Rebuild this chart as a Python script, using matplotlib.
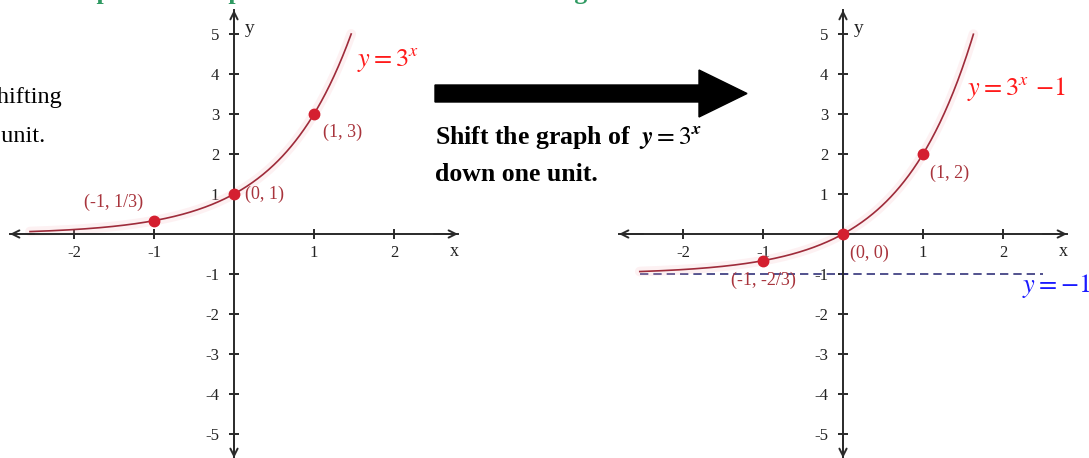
import matplotlib
matplotlib.use('Agg')
import matplotlib.pyplot as plt
from matplotlib.patches import FancyArrow
import numpy as np

plt.rcParams['font.family'] = 'serif'
plt.rcParams['font.serif'] = ['Liberation Serif', 'DejaVu Serif']
plt.rcParams['mathtext.fontset'] = 'stix'

# data
base = 3
shift = -1
x_ticks = [-2, -1, 1, 2]
x_tick_labels = ['-2', '-1', '1', '2']
y_ticks = [-5, -4, -3, -2, -1, 1, 2, 3, 4, 5]
y_tick_labels = ['-5', '-4', '-3', '-2', '-1', '1', '2', '3', '4', '5']

pts_x = [-1, 0, 1]
left_pts_y = [1 / 3, 1, 3]
left_pt_labels = ['(-1, 1/3)', '(0, 1)', '(1, 3)']
right_pts_y = [-2 / 3, 0, 2]
right_pt_labels = ['(-1, -2/3)', '(0, 0)', '(1, 2)']

left_curve_x = (-2.55, 1.465)
right_curve_x = (-2.54, 1.63)
asymptote_y = -1
asymptote_x = (-2.54, 2.5)

axis_color = '#2a2a2a'
curve_color = '#9e2b3a'
dot_color = '#d42030'
label_color = '#a8343c'

W, H = 1089, 458
fig = plt.figure(figsize=(W / 100, H / 100), dpi=100)
fig.patch.set_facecolor('white')


def px(x, y):
    # pixel (from top-left) -> figure fraction
    return x / W, 1 - y / H


def draw_axes(ax):
    ax.set_xlim(-2.8, 2.8)
    ax.set_ylim(-5.6, 5.6)
    ax.patch.set_visible(False)
    for s in ['top', 'right']:
        ax.spines[s].set_visible(False)
    for s in ['left', 'bottom']:
        ax.spines[s].set_position('zero')
        ax.spines[s].set_color(axis_color)
        ax.spines[s].set_linewidth(1.4)
    ax.set_xticks(x_ticks, x_tick_labels)
    ax.set_yticks(y_ticks, y_tick_labels)
    ax.tick_params(axis='x', direction='inout', length=7.5, width=1.4,
                   color=axis_color, labelsize=12, labelcolor='#222222', pad=4)
    ax.tick_params(axis='y', direction='inout', length=7.5, width=1.4,
                   color=axis_color, labelsize=12, labelcolor='#222222', pad=7)
    ends = [((2.8, 0), (2.5, 0)), ((-2.8, 0), (-2.5, 0)),
            ((0, 5.6), (0, 5.0)), ((0, -5.6), (0, -5.0))]
    for tip, tail in ends:
        ax.annotate('', xy=tip, xytext=tail,
                    arrowprops=dict(arrowstyle='->', lw=1.4, color=axis_color,
                                    shrinkA=0, shrinkB=0, mutation_scale=13),
                    annotation_clip=False)
    ax.text(2.76, -0.43, 'x', fontsize=13, color='#222222', ha='center', va='center')
    ax.text(0.2, 5.13, 'y', fontsize=14, color='#222222', ha='center', va='center')


def draw_curve(ax, xr, off):
    xs = np.linspace(xr[0], xr[1], 300)
    ys = base ** xs + off
    ax.plot(xs, ys, color='#f6b9c2', lw=7, alpha=0.2, solid_capstyle='round', zorder=2)
    ax.plot(xs, ys, color=curve_color, lw=1.2, zorder=3)


# left graph
ax1 = fig.add_axes([10 / W, 0, 448 / W, 448 / H])
draw_axes(ax1)
draw_curve(ax1, left_curve_x, 0)
ax1.plot(pts_x, left_pts_y, 'o', color=dot_color, ms=7.5, zorder=5)
left_offsets = [(-29, 13, 'center'), (8, 0, 'left'), (6.5, -13, 'left')]
for x, y, t, (dx, dy, ha) in zip(pts_x, left_pts_y, left_pt_labels, left_offsets):
    ax1.annotate(t, (x, y), xytext=(dx, dy), textcoords='offset points',
                 fontsize=13, color=label_color, ha=ha, va='center')
ax1.text(1.54, 4.2, r'$y = 3^x$', color='#ff1a1a', fontsize=19, ha='left', va='baseline')

# right graph
ax2 = fig.add_axes([619 / W, 0, 448 / W, 448 / H])
draw_axes(ax2)
ax2.plot(asymptote_x, [asymptote_y, asymptote_y], color='#34347a', lw=1.2,
         dashes=(5, 3), zorder=2)
draw_curve(ax2, right_curve_x, shift)
ax2.plot(pts_x, right_pts_y, 'o', color=dot_color, ms=7.5, zorder=5)
right_offsets = [(0, -14, 'center'), (5, -14, 'left'), (5, -14, 'left')]
for x, y, t, (dx, dy, ha) in zip(pts_x, right_pts_y, right_pt_labels, right_offsets):
    ax2.annotate(t, (x, y), xytext=(dx, dy), textcoords='offset points',
                 fontsize=13, color=label_color, ha=ha, va='center')
ax2.text(1.55, 3.475, r'$y = 3^x\, -\!1$', color='#ff1a1a', fontsize=19, ha='left', va='baseline')
ax2.text(2.24, -1.45, r'$y = -1$', color='#1a1aff', fontsize=19, ha='left', va='baseline')

# big arrow in the middle
x0, y0 = px(435, 93.5)
x1, _ = px(747, 93.5)
fig.patches.append(FancyArrow(x0, y0, x1 - x0, 0, width=17 / H, head_width=47 / H,
                              head_length=48 / W, length_includes_head=True,
                              color='black', transform=fig.transFigure, figure=fig))

fig.text(*px(435, 144), r'Shift the graph of  $\mathbfit{y} = 3^{\mathbfit{x}}$',
         fontsize=18.5, fontweight='bold', ha='left', va='baseline')
fig.text(*px(435, 181), 'down one unit.', fontsize=18.5, fontweight='bold',
         ha='left', va='baseline')

# cut-off text on the left edge
fig.text(*px(62, 103), 'by shifting', fontsize=17.5, ha='right', va='baseline')
fig.text(*px(45, 142), 'one unit.', fontsize=17.5, ha='right', va='baseline')

# cut-off green title at the top
green = '#2f9a62'
fig.text(33 / W, 1 + 1.5 / H, 'Example', color=green, fontsize=18.5,
         fontweight='bold', va='baseline')
fig.text(185 / W, 1 + 1.5 / H, 'Graph', color=green, fontsize=18.5,
         fontweight='bold', va='baseline')
fig.text(504 / W, 1 + 1.5 / H, 'shifting', color=green, fontsize=18.5,
         fontweight='bold', va='baseline')

fig.savefig('out.png', dpi=100)
